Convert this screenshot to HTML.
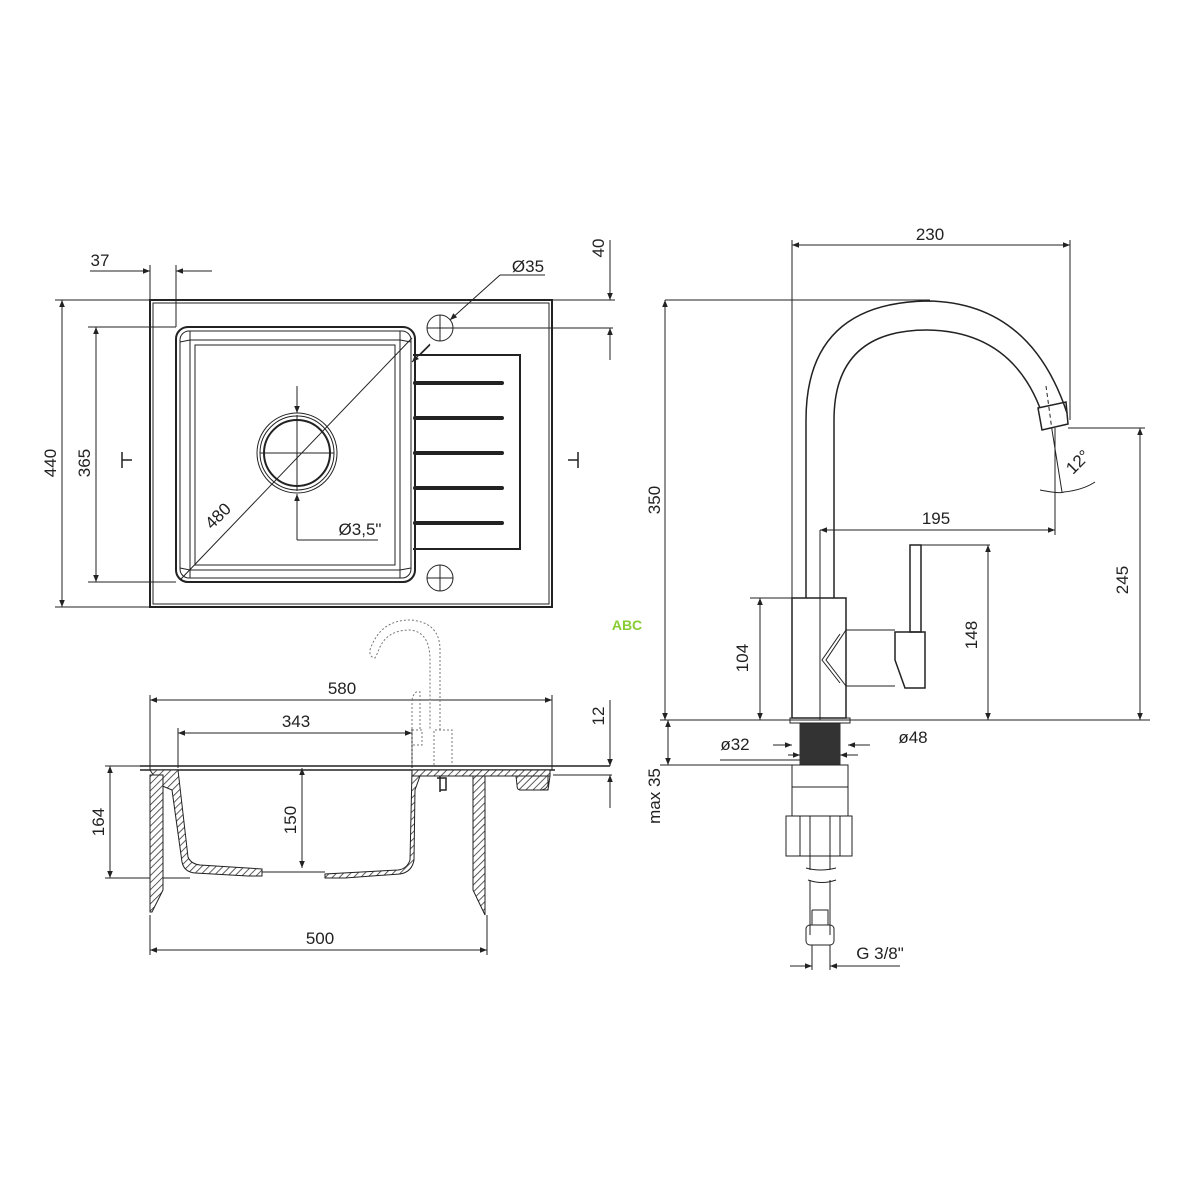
<!DOCTYPE html>
<html><head><meta charset="utf-8"><style>
html,body{margin:0;padding:0;background:#fff}
svg{display:block}
text{font-family:"Liberation Sans",sans-serif;font-size:17px;fill:#222;font-stretch:condensed}
</style></head><body>
<svg width="1200" height="1200" viewBox="0 0 1200 1200" xmlns="http://www.w3.org/2000/svg">
<defs>
<marker id="a" viewBox="0 0 10 10" refX="10" refY="5" markerWidth="9" markerHeight="7" orient="auto-start-reverse" markerUnits="userSpaceOnUse"><path d="M0,1 L10,5 L0,9z" fill="#222"/></marker>
<pattern id="h" width="5" height="5" patternUnits="userSpaceOnUse" patternTransform="rotate(45)"><rect width="5" height="5" fill="#fff"/><line x1="0" y1="0" x2="0" y2="5" stroke="#333" stroke-width="1.6"/></pattern>
</defs>
<g fill="none" stroke="#222" stroke-width="1">
<!-- TOP VIEW -->
<rect x="150" y="300" width="402" height="307" stroke-width="2"/>
<rect x="153" y="303" width="396" height="301"/>
<rect x="176" y="327" width="239" height="255" rx="12" stroke-width="2"/>
<rect x="180" y="331" width="231" height="247" rx="9"/>
<rect x="190" y="340" width="210" height="230"/>
<rect x="195" y="345" width="200" height="220"/>
<path d="M180,342 L190,340 M190,331 L190,340 M400,340 L411,342 M400,331 L400,340 M180,568 L190,570 M190,578 L190,570 M400,570 L411,568 M400,578 L400,570"/>
<circle cx="297" cy="453" r="40"/><circle cx="297" cy="453" r="37"/><circle cx="297" cy="453" r="33" stroke-width="2"/>
<path d="M260,453 H334 M297,415 V491"/>
<path d="M297,386 V413" marker-end="url(#a)"/><path d="M297,540 V494" marker-end="url(#a)"/>
<path d="M297,540 H378"/>
<path d="M413,355 H520 V549 H413" stroke-width="2"/>
<g stroke-width="4" stroke-linecap="round"><path d="M415,383 H502 M415,418 H502 M415,453 H502 M415,488 H502 M415,523 H502"/></g>
<circle cx="440" cy="328" r="13"/><path d="M427,328 H613 M440,315 V341"/>
<circle cx="440" cy="578" r="13"/><path d="M427,578 H453 M440,565 V591"/>
<path d="M180,580 L412,338"/>
<path d="M500,275 L450,320" marker-end="url(#a)"/><path d="M420,355 L430,345" /><path d="M412,362 L430,344" marker-start="url(#a)"/>
<path d="M500,275 H545"/>
<path d="M150,300 V265 M176,327 V265"/>
<path d="M90,271 H150" marker-end="url(#a)"/><path d="M212,271 H176" marker-end="url(#a)"/>
<path d="M55,300 H150 M88,327 H176 M88,582 H176 M55,607 H150"/>
<path d="M62,300 V607" marker-start="url(#a)" marker-end="url(#a)"/>
<path d="M96,327 V582" marker-start="url(#a)" marker-end="url(#a)"/>
<path d="M552,300 H615"/>
<path d="M610,240 V300" marker-end="url(#a)"/><path d="M610,360 V328" marker-end="url(#a)"/>
<g stroke-width="1.5"><path d="M122,452 V468 M122,460 H132 M578,452 V468 M578,460 H568"/></g>
<!-- SIDE VIEW -->
<path d="M150,695 V770 M552,695 V770 M178,728 V768 M412,728 V768"/>
<path d="M150,700 H552" marker-start="url(#a)" marker-end="url(#a)"/>
<path d="M178,733 H412" marker-start="url(#a)" marker-end="url(#a)"/>
<path d="M140,766 H610 M140,770 H555" stroke-width="1.5"/>
<path d="M553,775 H612"/>
<path d="M610,700 V766" marker-end="url(#a)"/><path d="M610,808 V775" marker-end="url(#a)"/>
<path d="M105,766 H150 M105,878 H190"/>
<path d="M110,766 V878" marker-start="url(#a)" marker-end="url(#a)"/>
<path d="M302,768 V868" marker-start="url(#a)" marker-end="url(#a)"/>
<path d="M150,915 V955 M487,915 V955"/>
<path d="M150,950 H487" marker-start="url(#a)" marker-end="url(#a)"/>
<g fill="url(#h)" stroke="#222">
<path d="M150,770 H178 L188,857 Q191,864 200,865 L262,869 L262,876 L248,876 L195,873 Q184,872 182,862 L172,790 L160,785 Z"/>
<path d="M150,775 H163 V890 L152,912 L150,912 Z"/>
<path d="M473,776 H485 V915 L473,890 Z"/>
<path d="M412,770 L410,860 Q407,869 398,870 L325,874 L325,878 L345,878 L400,874 Q412,872 414,860 L415,790 L420,776 H550 V776 L548,790 L520,790 L517,776"/>
<path d="M412,770 H550 V776 H412 Z"/>
<path d="M516,776 H548 V785 Q546,790 540,790 H520 Q517,790 517,785 Z"/>
</g>
<path d="M262,872 H325"/>
<path d="M440,776 V792 M437,778 H446 V790 H440" stroke-width="1.5"/>
<g stroke="#777" stroke-dasharray="2,2">
<path d="M412,765 V700 M412,700 Q414,690 420,692 L420,730 M412,730 H422 V745 H412 M434,765 V730 H452 V765 M440,730 V650 Q440,622 410,620 Q380,620 370,650 Q369,657 375,658 L378,652 Q385,630 410,630 Q430,632 430,660 L430,730"/>
</g>
<!-- FAUCET -->
<path d="M806,598 V420 Q806,303 927,301 Q1030,302 1067,413" stroke-width="1.5"/>
<path d="M834,598 V420 Q834,330 927,330 Q1010,331 1040,408" stroke-width="1.5"/>
<path d="M1038,408 L1066,402 L1068,424 L1042,430 Z" stroke-width="1.5"/>
<path d="M1046,386 L1052,430" stroke-dasharray="4,3"/>
<path d="M820,530 V598"/>
<path d="M792,598 H846 V718 H792 Z" stroke-width="1.5"/>
<path d="M820,598 V720 M820,540 V598" />
<path d="M846,630 H895 M846,686 H895 M846,630 L826,660 L846,686 M840,634 L822,660 L840,683"/>
<path d="M895,632 H925 V688 H905 L895,660 Z" stroke-width="1.5"/>
<path d="M910,545 H921 V632 H910 Z" stroke-width="1.5"/>
<path d="M790,718 H850 V723 H790 Z"/>
<rect x="800" y="724" width="40" height="41" fill="#333" stroke="#333"/>
<path d="M792,765 H848 V787 H792 Z M792,787 V816 M848,787 V816"/>
<path d="M786,816 H852 V856 H786 Z M800,816 V856 M810,816 V856 M830,816 V856 M840,816 V856"/>
<path d="M810,856 V870 M830,856 V870 M806,868 Q820,872 836,868 M808,880 Q822,885 836,880 M810,880 V935 M830,880 V935"/>
<rect x="806" y="925" width="28" height="20" rx="4"/>
<path d="M812,910 H828 V925 M812,910 V925"/>
<!-- faucet dims -->
<path d="M792,598 V240 M1070,240 V420 M665,300 H930"/>
<path d="M792,245 H1070" marker-start="url(#a)" marker-end="url(#a)"/>
<path d="M665,300 V720" marker-start="url(#a)" marker-end="url(#a)"/>
<path d="M660,720 H1150"/>
<path d="M1068,428 H1145 M1140,428 V720" /><path d="M1140,428 V720" marker-start="url(#a)" marker-end="url(#a)"/>
<path d="M1055,428 V535 M1052,430 L1062,492"/>
<path d="M820,530 H1055" marker-start="url(#a)" marker-end="url(#a)"/>
<path d="M1040,490 Q1060,494 1064,492 M1064,492 Q1083,490 1095,482"/>
<path d="M921,545 H990"/><path d="M988,545 V720" marker-start="url(#a)" marker-end="url(#a)"/>
<path d="M750,598 H792"/><path d="M760,598 V720" marker-start="url(#a)" marker-end="url(#a)"/>
<path d="M720,760 H800" /><path d="M773,745 H792" marker-end="url(#a)"/><path d="M870,745 H848" marker-end="url(#a)"/>
<path d="M788,755 H800" marker-end="url(#a)"/><path d="M858,755 H840" marker-end="url(#a)"/>
<path d="M660,765 H800"/><path d="M668,720 V765" marker-start="url(#a)" marker-end="url(#a)"/>
<path d="M812,945 V970 M830,945 V970"/>
<path d="M790,966 H812" marker-end="url(#a)"/><path d="M900,966 H830" marker-end="url(#a)"/>
</g>
<g>
<text x="100" y="266" text-anchor="middle">37</text>
<text x="528" y="272" text-anchor="middle">Ø35</text>
<text transform="translate(604,248) rotate(-90)" text-anchor="middle">40</text>
<text transform="translate(56,463) rotate(-90)" text-anchor="middle">440</text>
<text transform="translate(90,463) rotate(-90)" text-anchor="middle">365</text>
<text transform="translate(222,520) rotate(-45)" text-anchor="middle">480</text>
<text x="360" y="535" text-anchor="middle">Ø3,5"</text>
<text x="342" y="694" text-anchor="middle">580</text>
<text x="296" y="727" text-anchor="middle">343</text>
<text transform="translate(604,716) rotate(-90)" text-anchor="middle">12</text>
<text transform="translate(104,822) rotate(-90)" text-anchor="middle">164</text>
<text transform="translate(296,820) rotate(-90)" text-anchor="middle">150</text>
<text x="320" y="944" text-anchor="middle">500</text>
<text x="930" y="240" text-anchor="middle">230</text>
<text transform="translate(660,500) rotate(-90)" text-anchor="middle">350</text>
<text transform="translate(1082,466) rotate(-45)" text-anchor="middle">12°</text>
<text x="936" y="524" text-anchor="middle">195</text>
<text transform="translate(1128,580) rotate(-90)" text-anchor="middle">245</text>
<text transform="translate(977,635) rotate(-90)" text-anchor="middle">148</text>
<text transform="translate(748,658) rotate(-90)" text-anchor="middle">104</text>
<text x="735" y="750" text-anchor="middle">ø32</text>
<text x="913" y="743" text-anchor="middle">ø48</text>
<text transform="translate(660,796) rotate(-90)" text-anchor="middle">max 35</text>
<text x="880" y="959" text-anchor="middle">G 3/8"</text>
<text x="627" y="630" text-anchor="middle" style="font-size:14px;fill:#8c3;font-weight:bold">ABC</text>
</g>
</svg>
</body></html>
